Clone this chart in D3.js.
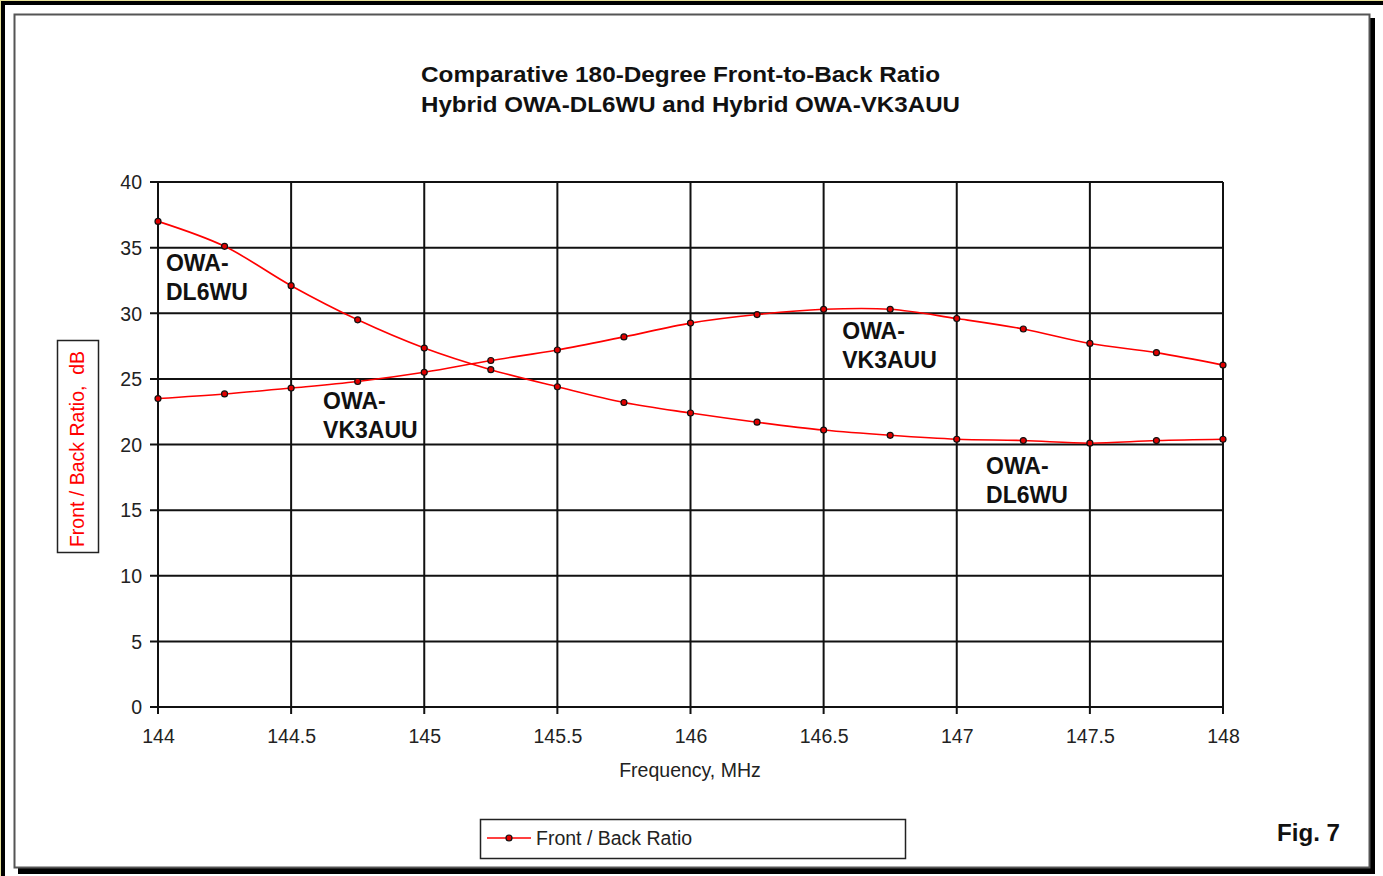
<!DOCTYPE html>
<html>
<head>
<meta charset="utf-8">
<script src="https://cdn.jsdelivr.net/npm/d3@7"></script>
<style>
  body { margin: 0; background: #fff; }
  svg { display: block; }
  text { font-family: "Liberation Sans", Arial, sans-serif; }
</style>
</head>
<body>
<div id="chart"></div>
<script>
// values
const freqs = [144, 144.25, 144.5, 144.75, 145, 145.25, 145.5, 145.75, 146,
               146.25, 146.5, 146.75, 147, 147.25, 147.5, 147.75, 148];
const dl6wu = [37.0, 35.1, 32.1, 29.5, 27.35, 25.7, 24.4, 23.2, 22.4,
               21.7, 21.1, 20.7, 20.4, 20.3, 20.1, 20.3, 20.4];
const vk3auu = [23.5, 23.85, 24.3, 24.8, 25.5, 26.4, 27.2, 28.2, 29.25,
                29.9, 30.3, 30.3, 29.6, 28.8, 27.7, 27.0, 26.05];
const xTicks = [144, 144.5, 145, 145.5, 146, 146.5, 147, 147.5, 148];
const yTicks = [0, 5, 10, 15, 20, 25, 30, 35, 40];
const titleLines = ["Comparative 180-Degree Front-to-Back Ratio",
                    "Hybrid OWA-DL6WU and Hybrid OWA-VK3AUU"];
const notes = [
  {lines: ["OWA-", "DL6WU"], x: 144.03, y: 33.3},
  {lines: ["OWA-", "VK3AUU"], x: 144.62, y: 22.8},
  {lines: ["OWA-", "VK3AUU"], x: 146.57, y: 28.15},
  {lines: ["OWA-", "DL6WU"], x: 147.11, y: 17.85}
];

const W = 1383, H = 876;
const plot = {left: 158, right: 1223, top: 182, bottom: 707};
const labelSize = 19.5;

const svg = d3.select('#chart').append('svg')
    .attr('width', W)
    .attr('height', H);

// outer frame
svg.append('rect').attr('x', 0).attr('y', 0).attr('width', W).attr('height', H).attr('fill', '#fff');
svg.append('line').attr('x1', 0).attr('x2', W).attr('y1', 0.5).attr('y2', 0.5).attr('stroke', '#e8e39a');
svg.append('line').attr('x1', 0.5).attr('x2', 0.5).attr('y1', 0).attr('y2', H).attr('stroke', '#e8e39a');
svg.append('rect').attr('x', 1).attr('y', 1).attr('width', W).attr('height', 4).attr('fill', '#000');
svg.append('rect').attr('x', 1).attr('y', 1).attr('width', 4).attr('height', H).attr('fill', '#000');

// inner panel with drop shadow
svg.append('rect').attr('x', 18).attr('y', 18).attr('width', 1357).attr('height', 856).attr('fill', '#000');
svg.append('rect').attr('x', 14.5).attr('y', 14.5).attr('width', 1355).attr('height', 853)
    .attr('fill', '#fff').attr('stroke', '#555').attr('stroke-width', 2);

const x = d3.scaleLinear().domain([144, 148]).range([plot.left, plot.right]);
const y = d3.scaleLinear().domain([0, 40]).range([plot.bottom, plot.top]);

// title
const titleLen = [519, 539];
svg.append('g').selectAll('text')
  .data(titleLines)
  .join('text')
    .attr('x', 421)
    .attr('y', (d, i) => 82 + i * 30)
    .attr('font-size', 22)
    .attr('font-weight', 'bold')
    .attr('fill', '#111')
    .attr('textLength', (d, i) => titleLen[i])
    .attr('lengthAdjust', 'spacingAndGlyphs')
    .text(d => d);

// grid
const g = svg.append('g');
g.selectAll('.hgrid')
  .data(yTicks)
  .join('line')
    .attr('class', 'hgrid')
    .attr('x1', plot.left - 8).attr('x2', plot.right)
    .attr('y1', d => y(d)).attr('y2', d => y(d))
    .attr('stroke', '#111').attr('stroke-width', 2);
g.selectAll('.vgrid')
  .data(xTicks)
  .join('line')
    .attr('class', 'vgrid')
    .attr('x1', d => x(d)).attr('x2', d => x(d))
    .attr('y1', plot.top).attr('y2', plot.bottom + 7)
    .attr('stroke', '#111').attr('stroke-width', 2);

// axis labels via d3 axes (ticks hidden, lines drawn above)
const yAxis = svg.append('g')
    .attr('transform', `translate(${plot.left - 8},0)`)
    .call(d3.axisLeft(y).tickValues(yTicks).tickSize(0).tickPadding(8));
const xAxis = svg.append('g')
    .attr('transform', `translate(0,${plot.bottom + 7})`)
    .call(d3.axisBottom(x).tickValues(xTicks).tickSize(0).tickPadding(15).tickFormat(d3.format('')));
[yAxis, xAxis].forEach(a => {
  a.select('.domain').remove();
  a.selectAll('text')
    .attr('font-size', labelSize)
    .attr('font-family', '"Liberation Sans", Arial, sans-serif')
    .attr('fill', '#222');
});
yAxis.selectAll('text').attr('dy', '0.35em');

svg.append('text')
    .attr('x', 690).attr('y', 777)
    .attr('text-anchor', 'middle')
    .attr('font-size', labelSize)
    .attr('fill', '#222')
    .text('Frequency, MHz');

// y axis title in box
svg.append('rect').attr('x', 57.5).attr('y', 340.5).attr('width', 41).attr('height', 212)
    .attr('fill', '#fff').attr('stroke', '#222').attr('stroke-width', 1.5);
svg.append('text')
    .attr('transform', 'translate(84,449) rotate(-90)')
    .attr('text-anchor', 'middle')
    .attr('font-size', labelSize)
    .attr('fill', '#ff0000')
    .attr('xml:space', 'preserve')
    .text('Front / Back Ratio,  dB');

// curves
const line = d3.line()
    .x(d => x(d[0]))
    .y(d => y(d[1]))
    .curve(d3.curveCatmullRom.alpha(0.5));

[dl6wu, vk3auu].forEach(vals => {
  const pts = freqs.map((f, i) => [f, vals[i]]);
  svg.append('path')
      .datum(pts)
      .attr('d', line)
      .attr('fill', 'none')
      .attr('stroke', '#ff0000')
      .attr('stroke-width', 1.6);
  svg.append('g').selectAll('circle')
    .data(pts)
    .join('circle')
      .attr('cx', d => x(d[0]))
      .attr('cy', d => y(d[1]))
      .attr('r', 3)
      .attr('fill', '#e00000')
      .attr('stroke', '#111')
      .attr('stroke-width', 1.2);
});

// annotations
notes.forEach(n => {
  svg.append('g').selectAll('text')
    .data(n.lines)
    .join('text')
      .attr('x', x(n.x))
      .attr('y', (d, i) => y(n.y) + 1 + i * 29)
      .attr('font-size', 23)
      .attr('font-weight', 'bold')
      .attr('fill', '#111')
      .text(d => d);
});

// legend
const leg = svg.append('g');
leg.append('rect').attr('x', 480.5).attr('y', 819.5).attr('width', 425).attr('height', 39)
    .attr('fill', '#fff').attr('stroke', '#222').attr('stroke-width', 1.5);
leg.append('line').attr('x1', 487).attr('x2', 531).attr('y1', 838).attr('y2', 838)
    .attr('stroke', '#ff0000').attr('stroke-width', 1.6);
leg.append('circle').attr('cx', 509).attr('cy', 838).attr('r', 3)
    .attr('fill', '#e00000').attr('stroke', '#111').attr('stroke-width', 1.2);
leg.append('text').attr('x', 536).attr('y', 845)
    .attr('font-size', labelSize).attr('fill', '#222')
    .text('Front / Back Ratio');

svg.append('text')
    .attr('x', 1277).attr('y', 841)
    .attr('font-size', 23)
    .attr('font-weight', 'bold')
    .attr('fill', '#111')
    .attr('textLength', 63)
    .attr('lengthAdjust', 'spacingAndGlyphs')
    .text('Fig. 7');
</script>
</body>
</html>
